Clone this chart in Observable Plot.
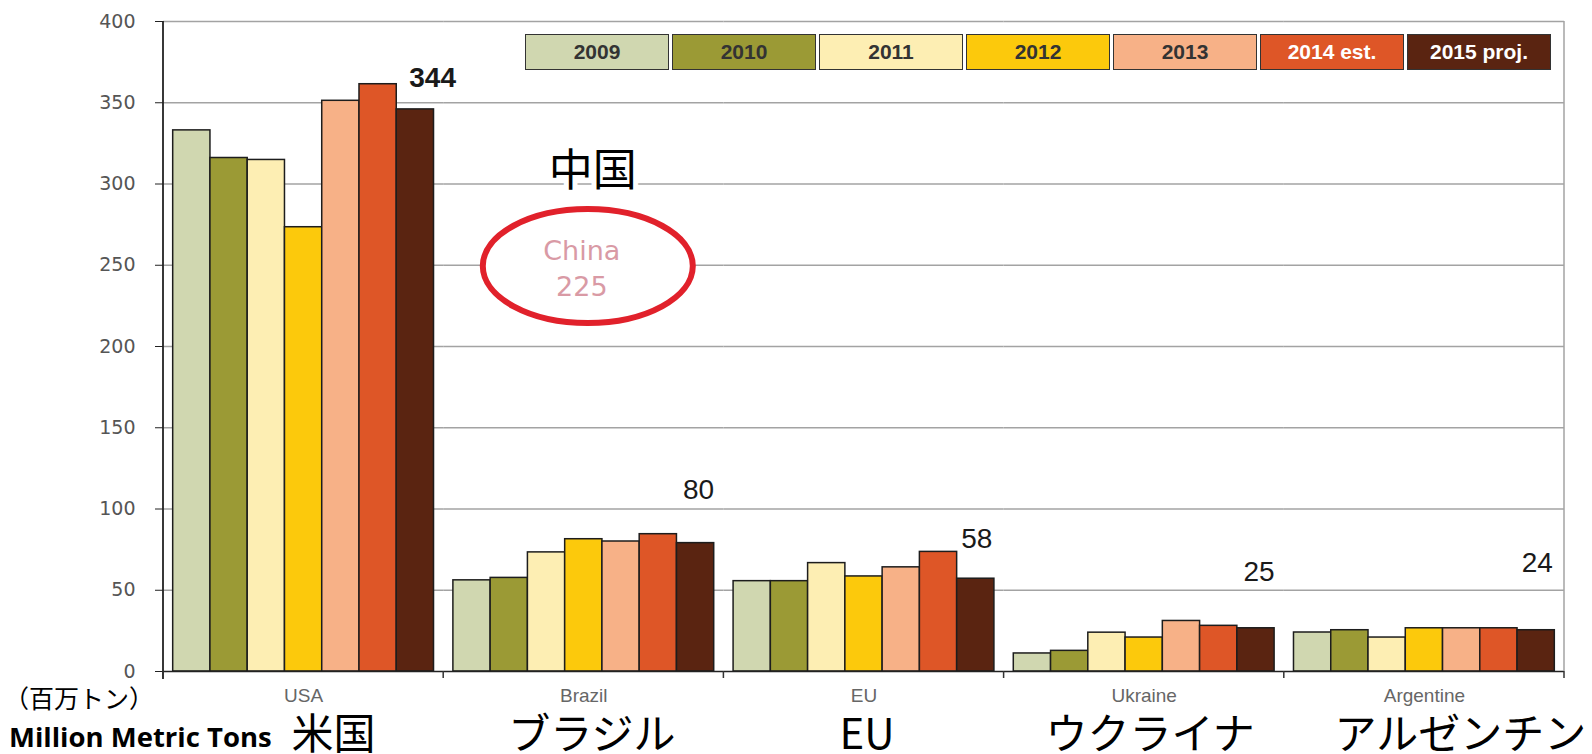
<!DOCTYPE html>
<html>
<head>
<meta charset="utf-8">
<script src="https://cdn.jsdelivr.net/npm/d3@7"></script>
<script src="https://cdn.jsdelivr.net/npm/@observablehq/plot@0.6"></script>
<style>
  html, body { margin: 0; padding: 0; background: #fff; }
  #wrap { position: relative; width: 1592px; height: 754px; overflow: hidden; }
  #wrap svg { position: absolute; left: 0; top: 0; }
  .lg { position: absolute; box-sizing: border-box; border: 1.5px solid #333;
        display: flex; align-items: center; justify-content: center;
        font-family: "Liberation Sans", Arial, sans-serif; font-weight: bold; font-size: 21px; }
  .note { position: absolute; white-space: nowrap; color: #000; }
</style>
</head>
<body>
<div id="wrap"></div>
<script>
// ---------- data ----------
const countries = ["USA", "Brazil", "EU", "Ukraine", "Argentine"];
const countriesJa = ["米国", "ブラジル", "EU", "ウクライナ", "アルゼンチン"];
const years = ["2009", "2010", "2011", "2012", "2013", "2014 est.", "2015 proj."];
const usa = [333, 316, 314.8, 273.4, 351.2, 361.4, 345.9];
const brazil = [56.1, 57.6, 73.3, 81.4, 80, 84.5, 79];
const eu = [55.6, 55.6, 66.7, 58.5, 64.1, 73.6, 57.1];
const ukraine = [11.1, 12.7, 23.9, 20.9, 31.1, 28.1, 26.6];
const argentine = [24, 25.4, 20.9, 26.6, 26.6, 26.6, 25.4];
const valueLabels = ["344", "80", "58", "25", "24"];
const yTicks = [0, 50, 100, 150, 200, 250, 300, 350, 400];
const chinaNoteJa = "中国";
const chinaNote = ["China", "225"];
const unitJa = "（百万トン）";
const unitEn = "Million Metric Tons";

// ---------- styles / layout ----------
const palette = ["#d0d7b0", "#9b9a35", "#fdeeb3", "#fcc90c", "#f7b187", "#de5627", "#5a2411"];
const legendText = ["#333", "#333", "#333", "#333", "#333", "#fff", "#fff"];
const labelY = {USA: 365.5, Brazil: 111.5, EU: 81.3, Ukraine: 61, Argentine: 67};
const labelShift = {USA: 22, Brazil: 0, EU: -2, Ukraine: 0, Argentine: -2};
const jaShift = {USA: 30, Brazil: 8, EU: 3, Ukraine: 6, Argentine: 36};
const halfBand = 18.6;

const series = [usa, brazil, eu, ukraine, argentine];
const rows = countries.flatMap((c, i) => years.map((y, j) => ({country: c, year: y, value: series[i][j]})));
const labelRows = countries.map((c, i) => ({country: c, year: years[years.length - 1], label: valueLabels[i], y: labelY[c]}));

const k = 0.5523, rx = 105, ry = 57;
const ellipse = {
  draw(ctx) {
    ctx.moveTo(rx, 0);
    ctx.bezierCurveTo(rx, ry * k, rx * k, ry, 0, ry);
    ctx.bezierCurveTo(-rx * k, ry, -rx, ry * k, -rx, 0);
    ctx.bezierCurveTo(-rx, -ry * k, -rx * k, -ry, 0, -ry);
    ctx.bezierCurveTo(rx * k, -ry, rx, -ry * k, rx, 0);
    ctx.closePath();
  }
};

const plot = Plot.plot({
  width: 1592,
  height: 754,
  marginLeft: 163,
  marginRight: 28,
  marginTop: 21,
  marginBottom: 83,
  style: {fontFamily: "'DejaVu Sans', sans-serif", fontSize: "19px", color: "#222", background: "transparent", overflow: "visible"},
  fx: {domain: countries, padding: 0, axis: null, round: false, label: null},
  x: {domain: years, paddingInner: 0, paddingOuter: 0.26, axis: null, round: false, label: null},
  y: {domain: [0, 400], ticks: 8, tickSize: 8, tickPadding: 11, label: null},
  color: {domain: years, range: palette},
  marks: [
    Plot.ruleY(yTicks.filter(d => d > 0), {stroke: "#a3a3a3", strokeWidth: 1.5}),
    Plot.barY(rows, {fx: "country", x: "year", y: "value", fill: "year", stroke: "#1d1d1d", strokeWidth: 1.5}),
    Plot.ruleY([0], {stroke: "#222", strokeWidth: 1.5}),
    ...countries.map(c => Plot.text(labelRows.filter(d => d.country === c), {
      fx: "country", x: "year", y: "y", text: "label", textAnchor: "end",
      dx: halfBand + labelShift[c], fontSize: 28, fill: "#1a1a1a",
      fontWeight: c === "USA" ? "bold" : "normal",
      fontFamily: "'Liberation Sans', Arial, sans-serif"
    })),
    Plot.text(countries, {fx: d => d, text: d => d, frameAnchor: "bottom", dy: 30, fontSize: 19, fill: "#666",
      fontFamily: "'Liberation Sans', Arial, sans-serif"}),
    ...countries.map((c, i) => Plot.text([c], {fx: d => d, text: () => countriesJa[i], frameAnchor: "bottom", dy: 77, dx: jaShift[c],
      fontSize: 42, fill: "#000", fontFamily: "'Noto Sans CJK JP', sans-serif"})),
    Plot.dot([{country: "Brazil", y: 249.5}], {fx: "country", y: "y", symbol: ellipse, fill: "white", stroke: "#e1212b", strokeWidth: 6, dx: 4}),
    Plot.text([{country: "Brazil", y: 258.8, t: chinaNote[0]}, {country: "Brazil", y: 236.2, t: chinaNote[1]}],
      {fx: "country", y: "y", text: "t", fill: "#d99aa5", fontSize: 27, dx: -2, fontFamily: "'DejaVu Sans', sans-serif"}),
    Plot.text([{country: "Brazil", y: 307.3}], {fx: "country", y: "y", text: () => chinaNoteJa, fontSize: 44, fill: "#000",
      stroke: "white", strokeWidth: 10, dx: 9, fontFamily: "'Noto Sans CJK JP', sans-serif"})
  ]
});

const wrap = document.getElementById("wrap");
wrap.appendChild(plot);

// axis line, category dividers and right frame, placed via the plot's own scales
const fx = plot.scale("fx");
const ys = plot.scale("y");
const svg = d3.select(plot);
const y0 = ys.apply(0), yTop = ys.apply(400);
const edges = countries.map(c => fx.apply(c));
edges.push(fx.apply(countries[countries.length - 1]) + fx.bandwidth);
const g = svg.append("g");
g.append("line").attr("x1", edges[edges.length - 1]).attr("x2", edges[edges.length - 1])
  .attr("y1", yTop).attr("y2", y0).attr("stroke", "#a3a3a3").attr("stroke-width", 1.5);
g.append("line").attr("x1", edges[0]).attr("x2", edges[0]).attr("y1", yTop).attr("y2", y0 + 8)
  .attr("stroke", "#222").attr("stroke-width", 1.8);
g.selectAll(".div").data(edges).join("line")
  .attr("x1", d => d).attr("x2", d => d).attr("y1", y0).attr("y2", y0 + 7)
  .attr("stroke", "#333").attr("stroke-width", 1.5);
svg.selectAll('g[aria-label^="y-axis"] text')
  .attr("fill", "#555").attr("font-size", 19).attr("font-family", "'DejaVu Sans', sans-serif").attr("dx", -9);

// legend
years.forEach((y, i) => {
  const d = document.createElement("div");
  d.className = "lg";
  d.style.left = (525 + i * 147) + "px";
  d.style.top = "34px";
  d.style.width = "144px";
  d.style.height = "36px";
  d.style.background = palette[i];
  d.style.color = legendText[i];
  d.textContent = y;
  wrap.appendChild(d);
});

// unit notes
const n1 = document.createElement("div");
n1.className = "note";
n1.style.cssText += "left:4px; top:680px; font-size:25px; font-family:'Noto Sans CJK JP', sans-serif; line-height:34px;";
n1.textContent = unitJa;
wrap.appendChild(n1);
const n2 = document.createElement("div");
n2.className = "note";
n2.style.cssText += "left:9px; top:721px; font-size:27.5px; font-weight:bold; font-family:'Open Sans', sans-serif; line-height:32px;";
n2.textContent = unitEn;
wrap.appendChild(n2);
</script>
</body>
</html>
